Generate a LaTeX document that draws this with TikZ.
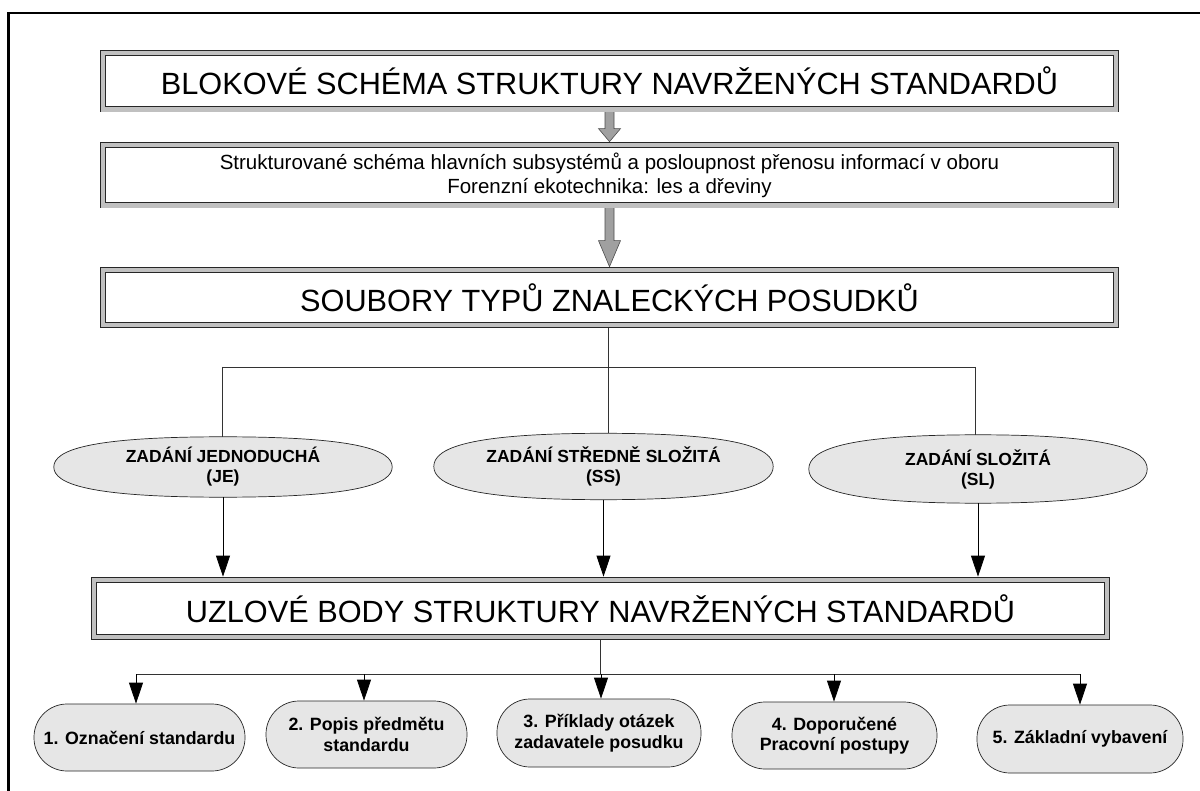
\documentclass[tikz,border=0pt]{standalone}
\usepackage{fontspec}
\setmainfont{Liberation Sans}
\usetikzlibrary{calc,arrows.meta}
\pgfdeclarelayer{background}
\pgfsetlayers{background,main}
\definecolor{band}{HTML}{C0C0C0}
\definecolor{arrgray}{HTML}{A0A0A0}
\definecolor{blobgray}{HTML}{E6E6E6}
\definecolor{linegray}{HTML}{333333}
\tikzset{
  titlebox/.style={draw=black!85, line width=0.7pt, double=band, double distance=4.6pt,
    fill=white, inner sep=0pt, minimum width=1013pt, font=\fontsize{30.7}{36}\selectfont},
  subbox/.style={titlebox, font=\fontsize{20.5}{23.5}\selectfont, align=center},
  blobnode/.style={inner sep=0pt, font=\bfseries\fontsize{17.5}{20}\selectfont, align=center},
  blobstyle/.style={fill=blobgray, draw=black!85, line width=0.7pt},
  pill/.style={draw=black!85, fill=blobgray, line width=0.7pt, rounded corners=33pt,
    inner sep=0pt, font=\bfseries\fontsize{17.8}{20.5}\selectfont, align=center},
  blockarr/.style={fill=arrgray, draw=black!70, line width=0.6pt},
  conn/.style={draw=linegray, line width=0.9pt},
  arrowline/.style={draw=black, line width=0.8pt, -{Triangle[length=21pt,width=14pt]}},
}
\newcommand\blobpath[1]{%
  \path[blobstyle] (#1.west)
   .. controls ($(#1.west)!0.55!(#1.north west)$) and ($(#1.north)!0.8!(#1.north west)$) .. (#1.north)
   .. controls ($(#1.north)!0.8!(#1.north east)$) and ($(#1.east)!0.55!(#1.north east)$) .. (#1.east)
   .. controls ($(#1.east)!0.55!(#1.south east)$) and ($(#1.south)!0.8!(#1.south east)$) .. (#1.south)
   .. controls ($(#1.south)!0.8!(#1.south west)$) and ($(#1.west)!0.55!(#1.south west)$) .. (#1.west) -- cycle;}
\newcommand\blockarrow[3]{%
  \path[blockarr] ($(#1.south)+(-4.5,0)$) -- ($(#2.north)+(-4.5,-3-#3)$) -- ($(#2.north)+(-11,-3-#3)$)
   -- ($(#2.north)+(0,-3)$) -- ($(#2.north)+(11,-3-#3)$) -- ($(#2.north)+(4.5,-3-#3)$)
   -- ($(#1.south)+(4.5,0)$) -- cycle;}
\begin{document}
\begin{tikzpicture}[x=1pt,y=-1pt]
\useasboundingbox (0,0) rectangle (1200,791);

% boxes
\node[titlebox, minimum height=56.5pt] (b1) at (609.5,81.25) {BLOKOVÉ SCHÉMA STRUKTURY NAVRŽENÝCH STANDARDŮ};
\node[subbox, minimum height=60.5pt] (b2) at (609.5,175.25) {Strukturované schéma hlavních subsystémů a posloupnost přenosu informací v oboru\\Forenzní ekotechnika: les a dřeviny};
\node[titlebox, minimum height=55pt] (b3) at (609.5,297.5) {SOUBORY TYPŮ ZNALECKÝCH POSUDKŮ};
\node[titlebox, minimum height=57pt] (b4) at (600.5,608.5) {UZLOVÉ BODY STRUKTURY NAVRŽENÝCH STANDARDŮ};

% ellipses (text nodes; outlines on background)
\node[blobnode, minimum width=338pt, minimum height=60pt] (e1) at (223,467) {ZADÁNÍ JEDNODUCHÁ\\(JE)};
\node[blobnode, minimum width=339pt, minimum height=66pt] (e2) at (603.5,466.5) {ZADÁNÍ STŘEDNĚ SLOŽITÁ\\(SS)};
\node[blobnode, minimum width=338pt, minimum height=68pt] (e3) at (978,469) {ZADÁNÍ SLOŽITÁ\\(SL)};

% bottom pills
\node[pill, minimum width=211pt, minimum height=67pt] (r1) at (139.5,737.5) {1. Označení standardu};
\node[pill, minimum width=201pt, minimum height=67pt] (r2) at (366.5,734.5) {2. Popis předmětu\\standardu};
\node[pill, minimum width=204pt, minimum height=68pt] (r3) at (599,733) {3. Příklady otázek\\zadavatele posudku};
\node[pill, minimum width=205pt, minimum height=67pt] (r4) at (834.5,735.5) {4. Doporučené\\Pracovní postupy};
\node[pill, minimum width=206pt, minimum height=68pt] (r5) at (1080,739) {5. Základní vybavení};

% junction coordinates
\coordinate (j1) at (222,367);
\coordinate (j2) at (608,367);
\coordinate (j3) at (975,367);
\coordinate (k0) at (600,674);
\coordinate (k1) at (136,674);
\coordinate (k2) at (364,674);
\coordinate (k3) at (601,674);
\coordinate (k4) at (834,674);
\coordinate (k5) at (1080,674);

\begin{pgfonlayer}{background}
  \fill[white] (0,0) rectangle (1200,791);
  \blockarrow{b1}{b2}{13}
  \blockarrow{b2}{b3}{26}
  \draw[conn] (j2 |- b3.south) -- (j2 |- e2.north);
  \draw[conn] (j1) -- (j3);
  \draw[conn] (j1) -- (j1 |- e1.north);
  \draw[conn] (j3) -- (j3 |- e3.north);
  \blobpath{e1}
  \blobpath{e2}
  \blobpath{e3}
\end{pgfonlayer}

% frame
\draw[line width=2.2pt] (8.4,791) -- (8.4,12.7) -- (1200,12.7);

% arrows to box 4
\draw[arrowline] (e1.south) -- ($(e1.south |- b4.north)+(0,-3)$);
\draw[arrowline] (e2.south) -- ($(e2.south |- b4.north)+(0,-3)$);
\draw[arrowline] (e3.south) -- ($(e3.south |- b4.north)+(0,-3)$);

% bottom tree
\draw[conn] ($(k0 |- b4.south)+(0,3)$) -- (k0);
\draw[conn] (k1) -- (k5);
\foreach \i in {1,...,5}{
  \draw[arrowline] (k\i) -- (k\i |- r\i.north);
}
\end{tikzpicture}
\end{document}
